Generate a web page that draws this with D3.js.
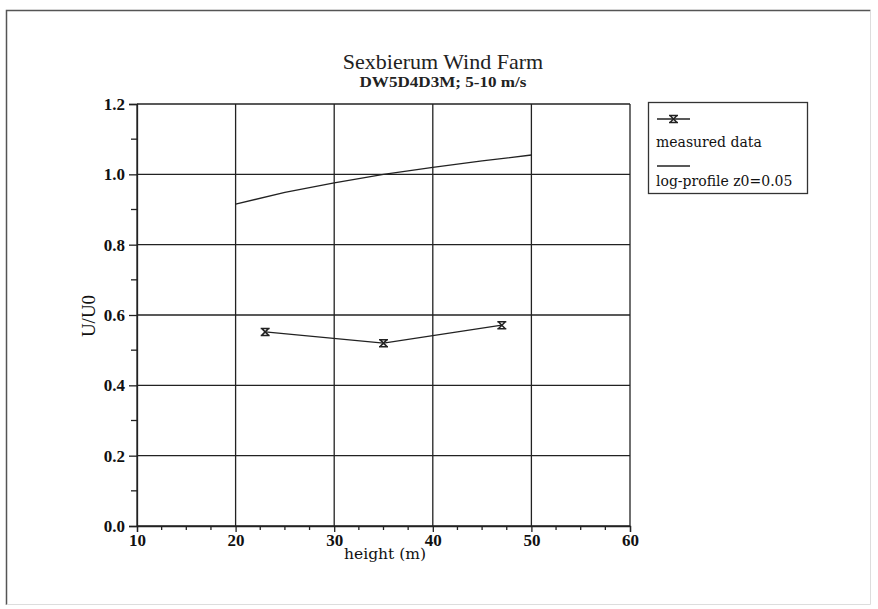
<!DOCTYPE html>
<html>
<head>
<meta charset="utf-8">
<script src="https://cdn.jsdelivr.net/npm/d3@7"></script>
<style>
  body { margin: 0; background: #fff; }
  svg { display: block; }
</style>
</head>
<body>
<script>
"use strict";
(function(){
  // log-profile values
  const profileHeight = [20, 25, 30, 35, 40, 45, 50];
  const profileU = [0.915, 0.949, 0.976, 1.0, 1.020, 1.038, 1.055];
  // measured points
  const measHeight = [23, 35, 47];
  const measU = [0.552, 0.520, 0.571];

  const xTicks = [10, 20, 30, 40, 50, 60];
  const yTicks = [0, 0.2, 0.4, 0.6, 0.8, 1.0, 1.2];
  const legendLabels = ["measured data", "log-profile z0=0.05"];

  const measurements = { width: 878, height: 609, left: 137, right: 630, top: 104, bottom: 526 };

  const svg = d3.select("body").append("svg")
      .attr("width", measurements.width)
      .attr("height", measurements.height);

  // outer frame
  svg.append("path")
      .attr("d", "M6.5,605 L6.5,10.5 L870.5,10.5")
      .attr("fill", "none").attr("stroke", "#555").attr("stroke-width", 1.5);
  svg.append("path")
      .attr("d", "M870.5,10.5 L870.5,604.5 L6.5,604.5")
      .attr("fill", "none").attr("stroke", "#ddd").attr("stroke-width", 1);

  const scaleX = d3.scaleLinear().domain([10, 60])
      .range([measurements.left, measurements.right]);
  const scaleY = d3.scaleLinear().domain([0, 1.2])
      .range([measurements.bottom, measurements.top]);

  // grid
  const grid = svg.append("g").attr("stroke", "#222").attr("stroke-width", 1.3);
  grid.selectAll(".vg").data(xTicks).enter().append("line")
      .attr("x1", d => scaleX(d)).attr("x2", d => scaleX(d))
      .attr("y1", measurements.top).attr("y2", measurements.bottom);
  grid.selectAll(".hg").data(yTicks).enter().append("line")
      .attr("x1", measurements.left).attr("x2", measurements.right)
      .attr("y1", d => scaleY(d)).attr("y2", d => scaleY(d));

  // axes
  const xAxis = d3.axisBottom(scaleX).tickValues(xTicks).tickSize(6).tickFormat(d3.format("d"));
  const yAxis = d3.axisLeft(scaleY).tickValues(yTicks).tickSize(8).tickFormat(d3.format(".1f"));
  const xMinor = d3.range(10, 60, 2.5).filter(v => v % 10 !== 0);
  const yMinor = d3.range(0.1, 1.2, 0.2);

  const gx = svg.append("g")
      .attr("transform", `translate(0,${measurements.bottom})`)
      .call(xAxis);
  const gy = svg.append("g")
      .attr("transform", `translate(${measurements.left},0)`)
      .call(yAxis);
  [gx, gy].forEach(g => {
    g.select(".domain").attr("stroke", "#222").attr("stroke-width", 1.3);
    g.selectAll(".tick line").attr("stroke", "#222").attr("stroke-width", 1.3);
    g.selectAll(".tick text")
        .attr("fill", "#111")
        .style("font-family", "'Liberation Serif', serif")
        .style("font-weight", "bold")
        .style("font-size", "17px");
  });
  gx.selectAll(".tick text").attr("dy", "0.9em").attr("y", 5);
  gy.selectAll(".tick text").attr("x", -12);

  svg.append("g").selectAll("line").data(xMinor).enter().append("line")
      .attr("x1", d => scaleX(d)).attr("x2", d => scaleX(d))
      .attr("y1", measurements.bottom).attr("y2", measurements.bottom + 4)
      .attr("stroke", "#222").attr("stroke-width", 1.3);
  svg.append("g").selectAll("line").data(yMinor).enter().append("line")
      .attr("x1", measurements.left - 6).attr("x2", measurements.left)
      .attr("y1", d => scaleY(d)).attr("y2", d => scaleY(d))
      .attr("stroke", "#222").attr("stroke-width", 1.3);

  // titles
  svg.append("text")
      .attr("x", 443).attr("y", 69)
      .attr("text-anchor", "middle")
      .attr("fill", "#222")
      .style("font-family", "'Liberation Serif', serif")
      .style("font-size", "22px")
      .text("Sexbierum Wind Farm");
  svg.append("text")
      .attr("x", 443).attr("y", 87)
      .attr("text-anchor", "middle")
      .attr("fill", "#222")
      .attr("textLength", 167).attr("lengthAdjust", "spacingAndGlyphs")
      .style("font-family", "'Liberation Serif', serif")
      .style("font-weight", "bold")
      .style("font-size", "14px")
      .text("DW5D4D3M; 5-10 m/s");

  svg.append("text")
      .attr("x", 385).attr("y", 559)
      .attr("text-anchor", "middle")
      .attr("fill", "#111")
      .style("font-family", "'DejaVu Serif', serif")
      .style("font-size", "15.5px")
      .text("height (m)");
  svg.append("text")
      .attr("transform", "translate(95,316) rotate(-90)")
      .attr("text-anchor", "middle")
      .attr("fill", "#111")
      .style("font-family", "'Liberation Serif', serif")
      .style("font-size", "19px")
      .text("U/U0");

  // data lines
  const line = d3.line().x(d => scaleX(d[0])).y(d => scaleY(d[1]));
  const profile = profileHeight.map((h, i) => [h, profileU[i]]);
  const meas = measHeight.map((h, i) => [h, measU[i]]);

  svg.append("path").datum(profile)
      .attr("d", line).attr("fill", "none")
      .attr("stroke", "#222").attr("stroke-width", 1.3);
  svg.append("path").datum(meas)
      .attr("d", line).attr("fill", "none")
      .attr("stroke", "#222").attr("stroke-width", 1.3);

  const markerPath = "M-4.5,-3.5 L4.5,-3.5 M-4.5,3.5 L4.5,3.5 M-3.5,-3.5 L3.5,3.5 M3.5,-3.5 L-3.5,3.5";
  svg.append("g").selectAll("path").data(meas).enter().append("path")
      .attr("transform", d => `translate(${scaleX(d[0])},${scaleY(d[1])})`)
      .attr("d", markerPath)
      .attr("fill", "none").attr("stroke", "#222").attr("stroke-width", 1.5);

  // legend
  const legend = svg.append("g");
  legend.append("rect")
      .attr("x", 648.5).attr("y", 102.5).attr("width", 159).attr("height", 91)
      .attr("fill", "#fff").attr("stroke", "#333").attr("stroke-width", 1.3);
  legend.append("line")
      .attr("x1", 657).attr("x2", 690).attr("y1", 119).attr("y2", 119)
      .attr("stroke", "#222").attr("stroke-width", 1.3);
  legend.append("path")
      .attr("transform", "translate(673.5,119)")
      .attr("d", markerPath)
      .attr("fill", "none").attr("stroke", "#222").attr("stroke-width", 1.5);
  legend.append("line")
      .attr("x1", 657).attr("x2", 690).attr("y1", 166).attr("y2", 166)
      .attr("stroke", "#222").attr("stroke-width", 1.3);
  legend.selectAll("text").data(legendLabels).enter().append("text")
      .attr("x", 656)
      .attr("y", (d, i) => 147 + i * 39)
      .attr("fill", "#111")
      .style("font-family", "'DejaVu Serif', serif")
      .style("font-size", "14px")
      .text(d => d);
})();
</script>
</body>
</html>
